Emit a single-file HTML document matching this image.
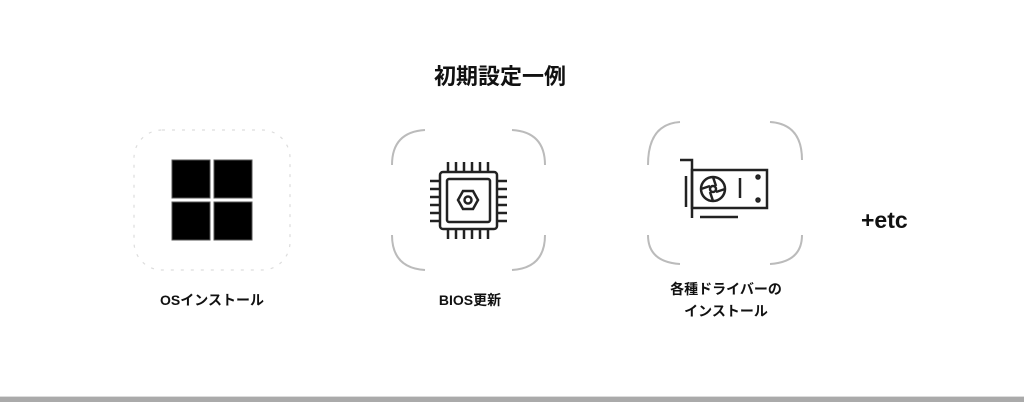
<!DOCTYPE html>
<html><head><meta charset="utf-8"><style>
html,body{margin:0;padding:0;background:#fff;width:1024px;height:402px;overflow:hidden;position:relative;font-family:"Liberation Sans","Noto Sans CJK JP",sans-serif;color:#111}
.t{position:absolute;white-space:nowrap;font-weight:bold}
</style></head><body>
<div class="t" style="left:0;width:1000px;text-align:center;top:59px;font-size:22px">初期設定一例</div>
<svg width="1024" height="402" style="position:absolute;left:0;top:0">
<g fill="none" stroke="#ddd" stroke-width="1.2" stroke-dasharray="3 7">
<rect x="134" y="130" width="156" height="140" rx="28"/>
</g>
<g fill="none" stroke="#bbb" stroke-width="2">
<path d="M392 165 Q392 132 425 130"/><path d="M512 130 Q545 132 545 165"/>
<path d="M392 235 Q392 268 425 270"/><path d="M512 270 Q545 268 545 235"/>
<path d="M648 165 Q648 124 680 122"/><path d="M770 122 Q802 124 802 160"/>
<path d="M648 235 Q648 262 680 264"/><path d="M770 264 Q802 262 802 235"/>
</g>
<g fill="#000" stroke="#555" stroke-width="1">
<rect x="172" y="160" width="38" height="38"/><rect x="214" y="160" width="38" height="38"/>
<rect x="172" y="202" width="38" height="38"/><rect x="214" y="202" width="38" height="38"/>
</g>
<g fill="none" stroke="#222" stroke-width="2.5">
<rect x="440" y="172" width="57" height="57" rx="3"/>
<rect x="447" y="179" width="43" height="43" rx="2"/>
<polygon points="458,200 463,191 473,191 478,200 473,209 463,209"/>
<circle cx="468" cy="200" r="3.5"/>
<path d="M448 172v-10M456 172v-10M464 172v-10M472 172v-10M480 172v-10M488 172v-10
M448 229v10M456 229v10M464 229v10M472 229v10M480 229v10M488 229v10
M440 181h-10M440 189h-10M440 197h-10M440 205h-10M440 213h-10M440 221h-10
M497 181h10M497 189h10M497 197h10M497 205h10M497 213h10M497 221h10"/>
<path d="M680 160h12v58"/>
<rect x="692" y="170" width="75" height="38"/>
<circle cx="713" cy="189" r="12"/>
<circle cx="713" cy="189" r="3"/>
<path d="M740 178v20M686 176v31M700 217h38"/>
<circle cx="758" cy="177" r="1.5"/><circle cx="758" cy="200" r="1.5"/>
<path d="M713 177l3 9M725 189l-9 3M713 201l-3-9M701 189l9-3"/>
</g>
<rect x="0" y="397" width="1024" height="5" fill="#aaa"/>
<rect x="0" y="396" width="1024" height="1" fill="#ddd"/>
</svg>
<div class="t" style="left:112px;width:200px;text-align:center;top:290px;font-size:14px">OSインストール</div>
<div class="t" style="left:370px;width:200px;text-align:center;top:290px;font-size:14px">BIOS更新</div>
<div class="t" style="left:626px;width:200px;text-align:center;top:278px;font-size:14px;line-height:22px">各種ドライバーの<br>インストール</div>
<div class="t" style="left:861px;top:207px;font-size:23px">+etc</div>
</body></html>
